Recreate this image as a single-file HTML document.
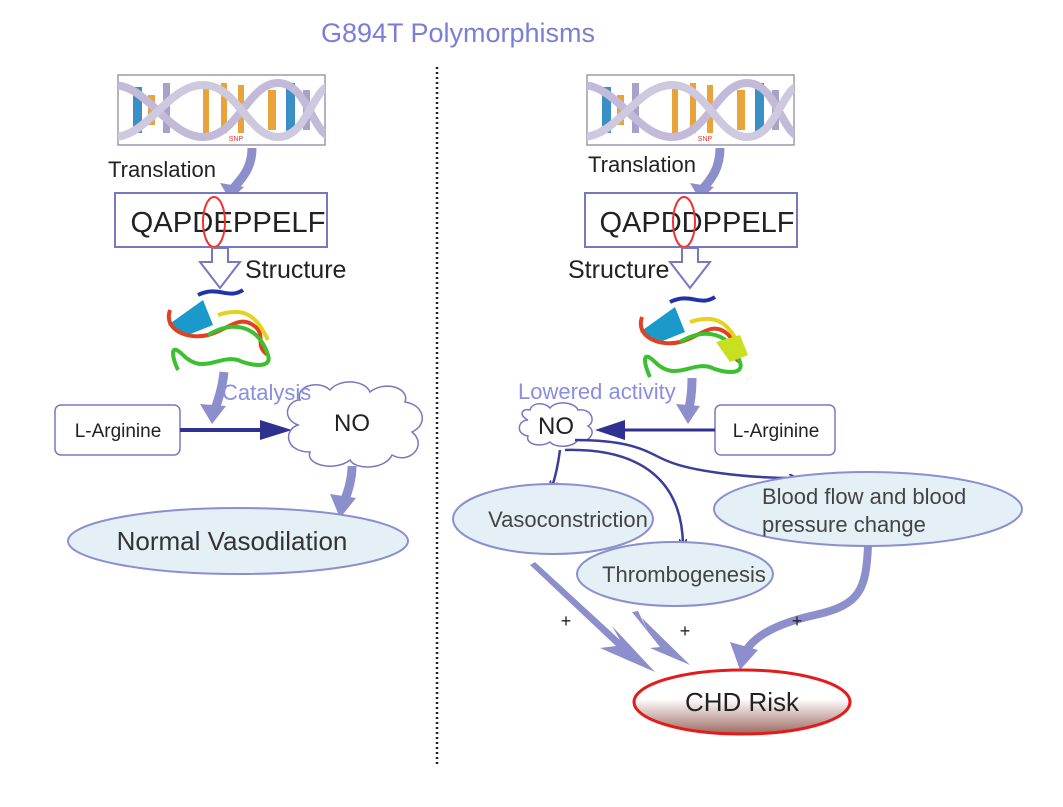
<!DOCTYPE html>
<html><head><meta charset="utf-8"><style>
html,body{margin:0;padding:0;background:#fff;}
svg{display:block;font-family:"Liberation Sans",sans-serif;}
</style></head><body>
<svg width="1063" height="807" viewBox="0 0 1063 807" xmlns="http://www.w3.org/2000/svg">
<defs>
<marker id="ah" markerWidth="8" markerHeight="8" refX="6" refY="4" orient="auto" markerUnits="userSpaceOnUse"><path d="M0,0 L8,4 L0,8" fill="none" stroke="#3a3d9a" stroke-width="2"/></marker>
<linearGradient id="chd" x1="0" y1="0" x2="0" y2="1"><stop offset="0.45" stop-color="#fff"/><stop offset="1" stop-color="#9c6a62"/></linearGradient>
<clipPath id="dc"><rect x="0" y="0" width="207" height="70"/></clipPath>
<g id="dna">
<rect x="0" y="0" width="207" height="70" fill="#fff" stroke="#9a9ab0" stroke-width="1.5"/>
<g clip-path="url(#dc)">
<rect x="15" y="12" width="9" height="46" fill="#3a8fc4"/><rect x="30" y="20" width="7" height="30" fill="#e8a33a"/>
<rect x="45" y="8" width="7" height="50" fill="#a7a2c8"/>
<rect x="85" y="10" width="6" height="48" fill="#e8a33a"/><rect x="103" y="8" width="6" height="50" fill="#e8a33a"/><rect x="120" y="10" width="6" height="48" fill="#e8a33a"/>
<rect x="150" y="15" width="8" height="40" fill="#e8a33a"/><rect x="168" y="8" width="9" height="52" fill="#3a8fc4"/><rect x="185" y="15" width="7" height="40" fill="#a7a2c8"/>
<path d="M-5,10 C30,10 50,62 85,62 S130,8 160,8 S195,62 215,62" fill="none" stroke="#c2bad8" stroke-width="8"/>
<path d="M-5,62 C30,62 50,10 85,10 S130,62 160,62 S195,10 215,10" fill="none" stroke="#cfc9df" stroke-width="8"/>
</g>
<text x="118" y="66" font-size="7" fill="#e33" text-anchor="middle">SNP</text>
</g>
<g id="prot">
<path d="M40,10 C60,0 70,15 85,5" fill="none" stroke="#2233aa" stroke-width="4"/>
<polygon points="10,40 45,15 55,40 30,50" fill="#1a9acb"/>
<path d="M12,25 C5,45 30,55 50,50 C70,45 80,30 95,40 C110,50 95,60 110,70" fill="none" stroke="#e34020" stroke-width="4"/>
<path d="M50,50 C75,35 100,40 110,70 C115,85 90,80 80,75 C60,70 45,90 25,70 C10,55 15,75 20,85" fill="none" stroke="#3cc030" stroke-width="4"/>
<path d="M60,30 C90,20 100,35 110,55" fill="none" stroke="#e5d21e" stroke-width="4"/>
</g>
</defs>

<text x="458" y="42" font-size="27" fill="#7a7ed6" text-anchor="middle">G894T Polymorphisms</text>
<line x1="437" y1="67" x2="437" y2="765" stroke="#222" stroke-width="2.5" stroke-dasharray="2,3"/>

<!-- LEFT -->
<use href="#dna" x="118" y="75"/>
<text x="108" y="177" font-size="22" fill="#222">Translation</text>
<path d="M252,148 C252,170 240,180 232,190" fill="none" stroke="#8d8fcc" stroke-width="9"/>
<polygon points="220,183 244,187 230,200" fill="#8d8fcc"/>
<rect x="115" y="193" width="212" height="54" fill="#fff" stroke="#7678c0" stroke-width="2"/>
<text x="228" y="232" font-size="29" fill="#222" text-anchor="middle" textLength="195" lengthAdjust="spacingAndGlyphs">QAPDEPPELF</text>
<ellipse cx="214" cy="222" rx="11" ry="25" fill="none" stroke="#e33" stroke-width="2"/>
<path d="M212,248 L228,248 L228,262 L240,262 L220,288 L200,262 L212,262 Z" fill="#fff" stroke="#7678c0" stroke-width="2"/>
<text x="245" y="278" font-size="25" fill="#222">Structure</text>
<use href="#prot" x="158" y="285"/>
<path d="M224,372 C222,390 218,400 214,412" fill="none" stroke="#8d8fcc" stroke-width="9"/>
<polygon points="200,404 226,406 212,424" fill="#8d8fcc"/>
<rect x="55" y="405" width="125" height="50" rx="6" fill="#fff" stroke="#7678c0" stroke-width="1.5"/>
<text x="118" y="437" font-size="19" fill="#222" text-anchor="middle">L-Arginine</text>
<line x1="180" y1="430" x2="270" y2="430" stroke="#2e3190" stroke-width="4"/>
<polygon points="260,420 292,430 260,440" fill="#2e3190"/>
<path d="M300,400 C295,385 320,380 330,390 C340,378 365,380 370,392 C385,380 410,388 405,402 C425,405 428,425 412,432 C428,445 410,465 392,455 C385,470 355,470 350,460 C335,472 305,465 310,452 C285,452 283,430 298,425 C280,418 288,400 300,400 Z" fill="#fff" stroke="#7678c0" stroke-width="1.5"/>
<text x="222" y="400" font-size="22" fill="#8a8ee0">Catalysis</text>
<text x="352" y="431" font-size="24" fill="#222" text-anchor="middle">NO</text>
<path d="M352,466 C352,480 348,492 344,502" fill="none" stroke="#8d8fcc" stroke-width="9"/>
<polygon points="330,494 356,498 340,518" fill="#8d8fcc"/>
<ellipse cx="238" cy="541" rx="170" ry="33" fill="#e4f0f6" stroke="#8a8fd0" stroke-width="2"/>
<text x="232" y="550" font-size="26" fill="#333" text-anchor="middle">Normal Vasodilation</text>

<!-- RIGHT -->
<use href="#dna" x="587" y="75"/>
<text x="588" y="172" font-size="22" fill="#222">Translation</text>
<path d="M720,148 C720,170 710,180 702,190" fill="none" stroke="#8d8fcc" stroke-width="9"/>
<polygon points="690,183 714,187 700,200" fill="#8d8fcc"/>
<rect x="585" y="193" width="212" height="54" fill="#fff" stroke="#7678c0" stroke-width="2"/>
<text x="697" y="232" font-size="29" fill="#222" text-anchor="middle" textLength="195" lengthAdjust="spacingAndGlyphs">QAPDDPPELF</text>
<ellipse cx="684" cy="222" rx="11" ry="25" fill="none" stroke="#e33" stroke-width="2"/>
<path d="M682,248 L698,248 L698,262 L710,262 L690,288 L670,262 L682,262 Z" fill="#fff" stroke="#7678c0" stroke-width="2"/>
<text x="568" y="278" font-size="25" fill="#222">Structure</text>
<use href="#prot" x="630" y="292"/>
<polygon points="716,342 740,335 748,355 730,362" fill="#c8e020"/>
<path d="M692,378 C692,395 690,405 688,412" fill="none" stroke="#8d8fcc" stroke-width="9"/>
<polygon points="676,404 700,406 688,424" fill="#8d8fcc"/>
<text x="518" y="399" font-size="22" fill="#8a8ee0">Lowered activity</text>
<path d="M530,410 C532,402 545,402 550,408 C556,400 575,402 578,410 C592,408 596,422 588,426 C598,432 588,444 578,440 C572,448 555,448 550,442 C540,448 525,444 528,436 C515,434 518,420 528,420 C518,415 522,408 530,410 Z" fill="#fff" stroke="#7678c0" stroke-width="1.5"/>
<text x="556" y="434" font-size="24" fill="#222" text-anchor="middle">NO</text>
<rect x="715" y="405" width="120" height="50" rx="6" fill="#fff" stroke="#7678c0" stroke-width="1.5"/>
<text x="776" y="437" font-size="19" fill="#222" text-anchor="middle">L-Arginine</text>
<line x1="715" y1="430" x2="615" y2="430" stroke="#2e3190" stroke-width="3"/>
<polygon points="625,420 595,430 625,440" fill="#2e3190"/>
<path d="M560,450 C558,465 556,475 552,487" fill="none" stroke="#3a3d9a" stroke-width="2.5" marker-end="url(#ah)"/>
<path d="M565,450 C640,448 682,480 683,545" fill="none" stroke="#3a3d9a" stroke-width="2.5" marker-end="url(#ah)"/>
<path d="M575,440 C640,440 650,455 670,462 C690,470 740,478 795,478" fill="none" stroke="#3a3d9a" stroke-width="2.5" marker-end="url(#ah)"/>
<ellipse cx="553" cy="519" rx="100" ry="35" fill="#e4f0f6" stroke="#8a8fd0" stroke-width="2"/>
<text x="568" y="527" font-size="22" fill="#444" text-anchor="middle">Vasoconstriction</text>
<ellipse cx="868" cy="509" rx="154" ry="37" fill="#e4f0f6" stroke="#8a8fd0" stroke-width="2"/>
<text x="762" y="504" font-size="22" fill="#444">Blood flow and blood</text>
<text x="762" y="532" font-size="22" fill="#444">pressure change</text>
<ellipse cx="675" cy="574" rx="98" ry="32" fill="#e4f0f6" stroke="#8a8fd0" stroke-width="2"/>
<text x="684" y="582" font-size="22" fill="#444" text-anchor="middle">Thrombogenesis</text>
<polygon points="530,565 535,562 620,640 612,626 655,672 600,648 616,646" fill="#8d8fcc"/>
<polygon points="632,612 638,611 648,632 642,618 690,665 650,648 660,647" fill="#8d8fcc"/>
<path d="M868,546 C866,590 860,605 815,615 C770,625 750,640 744,655" fill="none" stroke="#8d8fcc" stroke-width="8"/>
<polygon points="730,642 758,650 740,670" fill="#8d8fcc"/>
<text x="566" y="627" font-size="18" fill="#222" text-anchor="middle">+</text>
<text x="685" y="637" font-size="18" fill="#222" text-anchor="middle">+</text>
<text x="797" y="627" font-size="18" fill="#222" text-anchor="middle">+</text>
<ellipse cx="742" cy="702" rx="108" ry="32" fill="url(#chd)" stroke="#e41b1b" stroke-width="3"/>
<text x="742" y="711" font-size="26" fill="#222" text-anchor="middle">CHD Risk</text>
</svg>
</body></html>
